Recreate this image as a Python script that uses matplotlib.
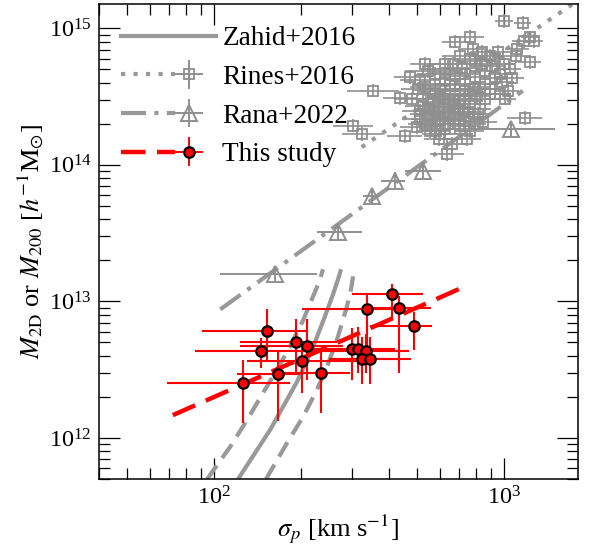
import numpy as np
import matplotlib
matplotlib.use("Agg")
import matplotlib.pyplot as plt
from matplotlib.lines import Line2D
from matplotlib.legend_handler import HandlerBase

plt.rcParams['font.family'] = ['Liberation Serif', 'DejaVu Serif']
plt.rcParams['mathtext.fontset'] = 'stix'

# ---------------- data ----------------
# Zahid+2016 relation (central curve and its two bounds): sigma [km/s], mass [h^-1 Msun]
zahid_sigma = [121.0, 136.3, 156.0, 172.9, 193.3, 217.7, 237.6, 257.3, 267.7, 274.2]
zahid_mass = [5.0e11, 7.37e11, 1.145e12, 1.690e12, 2.581e12, 4.437e12, 7.128e12, 1.126e13, 1.452e13, 1.719e13]
zahid_lo_sigma = [94.6, 113.5, 130.0, 147.6, 164.9, 182.8, 202.7, 219.5, 230.2, 237.6]
zahid_lo_mass = [5.0e11, 8.59e11, 1.357e12, 2.142e12, 3.162e12, 4.668e12, 7.25e12, 1.088e13, 1.380e13, 1.719e13]
zahid_hi_sigma = [151.1, 178.5, 202.7, 226.5, 245.3, 265.6, 287.4, 296.8, 301.6]
zahid_hi_mass = [5.0e11, 9.19e11, 1.427e12, 2.254e12, 3.328e12, 5.255e12, 9.19e12, 1.225e13, 1.527e13]

# Rines+2016 clusters: sigma [km/s], M200 [1e14 h^-1 Msun], errors in dex
rines_sigma = [1000, 1160, 763, 678, 1230, 1170, 1270, 1110, 1230, 1100,
               667, 548, 474, 353, 438, 301, 325, 455, 1070, 1030,
               1180, 846, 745, 636, 583, 716, 840, 909, 1000, 781,
               840, 954, 895, 763, 705, 626, 513, 505, 556, 601,
               651, 705, 781, 860, 931, 985, 525, 570, 616, 667,
               728, 806, 543, 591, 640, 694, 751, 501, 565, 640,
               728, 601, 678, 763, 860, 548, 596, 662, 705, 794,
               734, 826, 895, 1008, 481, 513, 626, 578,
               534, 578, 626, 678, 734, 548, 596, 645, 699, 757,
               813, 534, 578, 626, 678, 734, 794, 513, 556, 601,
               651, 705, 763, 826, 895, 969, 1049, 860, 794, 931,
               626, 678, 578, 534, 969, 601, 556, 763]
rines_mass = [11.3, 10.9, 8.7, 8.0, 8.6, 8.1, 8.1, 7.1, 5.7, 6.3,
              5.5, 4.9, 4.4, 3.5, 3.1, 1.94, 1.69, 1.62, 4.3, 3.5,
              2.2, 2.05, 1.55, 1.2, 1.78, 5.1, 5.5, 5.3, 5.5, 7.1,
              6.7, 6.7, 6.3, 6.0, 6.3, 4.7, 4.2, 3.6, 3.55, 3.6,
              3.85, 3.9, 3.6, 3.9, 4.3, 4.05, 2.7, 2.9, 3.06, 3.0,
              3.06, 3.2, 2.37, 2.45, 2.45, 2.37, 2.45, 1.9, 1.94, 2.0,
              1.94, 2.18, 2.66, 2.81, 3.06, 2.18, 1.55, 1.43, 1.84, 4.4,
              4.67, 2.58, 3.33, 3.06, 3.06, 2.18, 5.5, 3.94,
              3.75, 3.33, 3.5, 3.33, 3.5, 3.06, 2.7, 2.81, 2.58, 2.26,
              2.37, 2.0, 2.1, 1.84, 2.18, 2.1, 2.0, 2.5, 2.58, 3.16,
              2.29, 2.96, 3.33, 3.75, 3.62, 4.67, 5.08, 4.9, 5.8, 6.0,
              4.29, 4.45, 4.67, 5.53, 3.33, 1.69, 1.76, 1.76]
rines_sigma_err = [0.03, 0.03, 0.05, 0.045, 0.03, 0.04, 0.03, 0.04, 0.04, 0.05,
                   0.05, 0.08, 0.055, 0.09, 0.06, 0.07, 0.07, 0.06, 0.04, 0.04,
                   0.06, 0.05, 0.05, 0.06, 0.05, 0.05, 0.04, 0.04, 0.04, 0.05,
                   0.04, 0.04, 0.05, 0.05, 0.06, 0.05, 0.07, 0.06, 0.06, 0.05,
                   0.05, 0.05, 0.04, 0.05, 0.04, 0.04, 0.06, 0.05, 0.05, 0.05,
                   0.05, 0.05, 0.06, 0.05, 0.05, 0.05, 0.05, 0.06, 0.05, 0.05,
                   0.05, 0.05, 0.05, 0.05, 0.04, 0.06, 0.05, 0.05, 0.05, 0.04,
                   0.05, 0.04, 0.04, 0.04, 0.06, 0.06, 0.05, 0.05,
                   0.05, 0.06, 0.05, 0.04, 0.05, 0.06, 0.05, 0.05, 0.04, 0.05,
                   0.04, 0.06, 0.05, 0.05, 0.04, 0.05, 0.04, 0.06, 0.05, 0.05,
                   0.05, 0.04, 0.05, 0.04, 0.04, 0.04, 0.04, 0.05, 0.04, 0.04,
                   0.05, 0.05, 0.06, 0.05, 0.04, 0.06, 0.05, 0.05]
rines_mass_err = [0.05] * len(rines_sigma)

# Rana+2022 groups: sigma [km/s] with bounds, mass [1e13 h^-1 Msun]
rana_sigma = [162, 268, 352, 421, 527, 1057]
rana_sigma_lo = [105, 226, 326, 378, 456, 781]
rana_sigma_hi = [226, 323, 373, 456, 609, 1500]
rana_mass = [1.58, 3.2, 5.94, 7.67, 9.09, 18.4]
rana_mass_err = [0.06, 0.06, 0.06, 0.06, 0.06, 0.06]

# This study: sigma_p [km/s] with bounds, M_2D [1e12 h^-1 Msun] with bounds
study_sigma = [126, 145, 152, 166, 192, 201, 210, 234, 410, 336, 434, 488, 298, 313, 335, 324, 346]
study_sigma_lo = [69, 86, 91, 120, 123, 130, 123, 169, 298, 201, 330, 345, 200, 220, 220, 250, 250]
study_sigma_hi = [183, 279, 211, 198, 265, 330, 279, 294, 526, 431, 560, 565, 420, 420, 470, 430, 480]
study_mass = [2.52, 4.36, 6.05, 2.94, 5.06, 3.68, 4.69, 2.97, 11.3, 8.84, 8.88, 6.55, 4.51, 4.51, 4.31, 3.79, 3.79]
study_mass_lo = [1.28, 3.27, 3.75, 1.32, 2.99, 2.13, 2.67, 1.52, 7.38, 3.94, 3.0, 4.44, 2.67, 3.0, 3.0, 2.5, 2.5]
study_mass_hi = [3.75, 5.43, 8.83, 4.44, 7.38, 4.44, 7.38, 4.44, 13.3, 11.2, 10.9, 8.3, 6.4, 6.5, 5.8, 5.5, 5.5]

# Power-law fits: log M = norm + slope * log(sigma / sigma_pivot)
fit_pivot = 100.0
study_fit = dict(slope=0.935, norm=12.30, smin=72, smax=740)
rana_fit = dict(slope=1.534, norm=12.909, smin=105, smax=1163)
rines_fit = dict(slope=1.438, norm=13.398, smin=323, smax=1900)

legend_labels = ['Zahid+2016', 'Rines+2016', 'Rana+2022', 'This study']

GRAY = '#999999'
MGRAY = '#8f8f8f'
RED = '#ff0000'

fig = plt.figure(figsize=(5.92, 5.44), dpi=100)
ax = fig.add_axes([0.167, 0.1195, 0.809, 0.8725])
ax.set_xscale('log')
ax.set_yscale('log')


def fit_line(p):
    s = np.array([p['smin'], p['smax']], dtype=float)
    return s, 10 ** (p['norm'] + p['slope'] * np.log10(s / fit_pivot))


# Zahid curves
dash_z = (0, (4.0, 2.2))
ax.plot(zahid_sigma, zahid_mass, color=GRAY, lw=3.0, solid_capstyle='butt',
        solid_joinstyle='round', zorder=2)
ax.plot(zahid_lo_sigma, zahid_lo_mass, color=GRAY, lw=3.0, ls=dash_z, zorder=2)
ax.plot(zahid_hi_sigma, zahid_hi_mass, color=GRAY, lw=3.0, ls=dash_z, zorder=2)

# Rines clusters
rs = np.array(rines_sigma, float)
rm = np.array(rines_mass, float) * 1e14
rse = np.array(rines_sigma_err)
rme = np.array(rines_mass_err)
ax.errorbar(rs, rm,
            xerr=[rs - rs * 10 ** -rse, rs * 10 ** rse - rs],
            yerr=[rm - rm * 10 ** -rme, rm * 10 ** rme - rm],
            fmt='s', ms=7, mfc='none', mec=MGRAY, mew=1.3, ecolor=MGRAY, elinewidth=1.2,
            capsize=0, zorder=3)
sx, sy = fit_line(rines_fit)
ax.plot(sx, sy, color=GRAY, lw=3.0, ls=(0, (1.0, 2.0)), zorder=2)

# Rana groups
ts = np.array(rana_sigma, float)
tm = np.array(rana_mass, float) * 1e13
tme = np.array(rana_mass_err)
ax.errorbar(ts, tm,
            xerr=[ts - np.array(rana_sigma_lo), np.array(rana_sigma_hi) - ts],
            yerr=[tm - tm * 10 ** -tme, tm * 10 ** tme - tm],
            fmt='^', ms=12, mfc='none', mec=MGRAY, mew=1.4, ecolor=MGRAY, elinewidth=1.4,
            capsize=0, zorder=3)
sx, sy = fit_line(rana_fit)
ax.plot(sx, sy, color=GRAY, lw=3.0, ls=(0, (6.0, 2.0, 1.0, 2.0)), zorder=2)

# This study
ss = np.array(study_sigma, float)
sm = np.array(study_mass, float) * 1e12
ax.errorbar(ss, sm,
            xerr=[ss - np.array(study_sigma_lo), np.array(study_sigma_hi) - ss],
            yerr=[sm - np.array(study_mass_lo) * 1e12, np.array(study_mass_hi) * 1e12 - sm],
            fmt='o', ms=7.5, mfc=RED, mec='black', mew=1.6, ecolor=RED, elinewidth=1.5,
            capsize=0, zorder=5)
sx, sy = fit_line(study_fit)
ax.plot(sx, sy, color=RED, lw=3.2, ls=(0, (5.5, 2.6)), zorder=4)

ax.set_xlim(40, 1800)
ax.set_ylim(5e11, 1.5e15)

ax.set_xlabel(r'$\sigma_p$ [km s$^{-1}$]', fontsize=19, labelpad=2)
ax.set_ylabel(r'$M_{\rm 2D}$ or $M_{200}$ [$h^{-1}{\rm M}_{\odot}$]', fontsize=19, labelpad=2)

ax.tick_params(which='both', direction='in', top=True, right=True)
ax.tick_params(which='major', length=15, width=0.9, labelsize=17.5, pad=5)
ax.tick_params(which='minor', length=8, width=0.9)
for sp in ax.spines.values():
    sp.set_linewidth(1.1)


# ---------------- legend ----------------
class KeyHandler(HandlerBase):
    def __init__(self, line_kw, marker_kw=None, bar_color=None, bar_half=9.5, frac=0.71):
        super().__init__()
        self.line_kw = line_kw
        self.marker_kw = marker_kw
        self.bar_color = bar_color
        self.bar_half = bar_half
        self.frac = frac

    def create_artists(self, legend, orig_handle, xdescent, ydescent, width, height, fontsize, trans):
        y = height / 2.0 - ydescent
        x0 = -xdescent
        arts = []
        if self.marker_kw is None:
            arts.append(Line2D([x0, x0 + width], [y, y], **self.line_kw))
        else:
            xm = x0 + self.frac * width
            h = self.bar_half
            arts.append(Line2D([x0, xm - h], [y, y], **self.line_kw))
            arts.append(Line2D([xm - h, xm + h], [y, y], color=self.bar_color, lw=1.4))
            arts.append(Line2D([xm, xm], [y - h, y + h], color=self.bar_color, lw=1.4))
            arts.append(Line2D([xm], [y], ls='none', **self.marker_kw))
        for a in arts:
            a.set_transform(trans)
        return arts


handles = [Line2D([], []) for _ in legend_labels]
handlers = [
    KeyHandler(dict(color=GRAY, lw=3.0)),
    KeyHandler(dict(color=GRAY, lw=3.0, ls=(0, (1.0, 2.0))),
               dict(marker='s', ms=7, mfc='none', mec=MGRAY, mew=1.3), MGRAY),
    KeyHandler(dict(color=GRAY, lw=3.0, ls=(0, (6.0, 2.0, 1.0, 2.0))),
               dict(marker='^', ms=12, mfc='none', mec=MGRAY, mew=1.4), MGRAY),
    KeyHandler(dict(color=RED, lw=3.2, ls=(0, (5.5, 2.6))),
               dict(marker='o', ms=7.5, mfc=RED, mec='black', mew=1.6), RED),
]
ax.legend(handles, legend_labels, handler_map=dict(zip(handles, handlers)),
          loc='upper left', frameon=False, fontsize=19.6, handlelength=3.52,
          handletextpad=0.22, labelspacing=0.5, borderaxespad=0.4, borderpad=0.4)

fig.savefig('out.png', dpi=100)
